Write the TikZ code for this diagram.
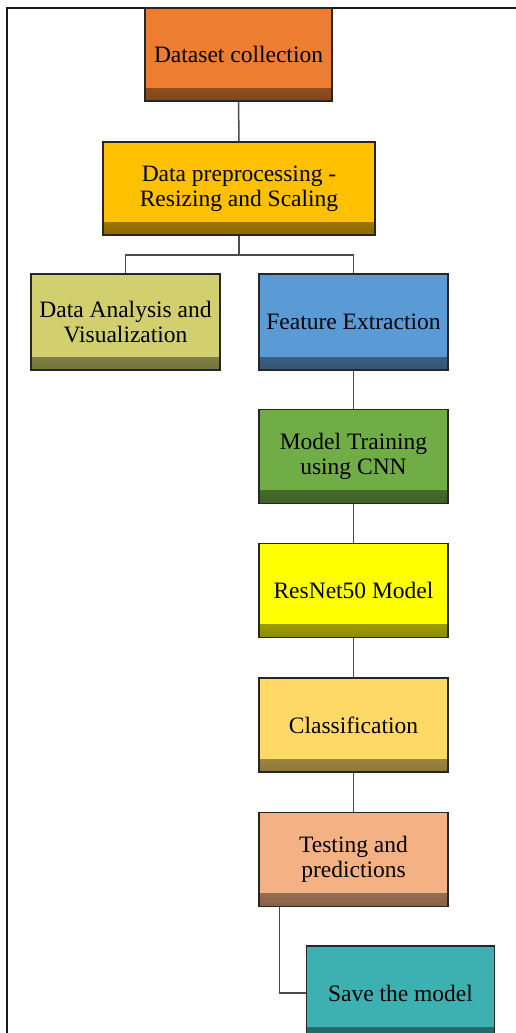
\documentclass[tikz,border=0pt]{standalone}
\usepackage{fontspec}
\setmainfont{Liberation Serif}
\definecolor{cOrange}{HTML}{ED7D31}
\definecolor{cGold}{HTML}{FFC000}
\definecolor{cOlive}{HTML}{D1CF6E}
\definecolor{cBlue}{HTML}{5B9BD5}
\definecolor{cGreen}{HTML}{70AD47}
\definecolor{cYellow}{HTML}{FFFF00}
\definecolor{cSand}{HTML}{FFD966}
\definecolor{cPeach}{HTML}{F4B183}
\definecolor{cTeal}{HTML}{3DB0B1}

\begin{document}
\begin{tikzpicture}[x=1pt,y=1pt,
    box/.style={draw=black!85, line width=1.2pt, fill=#1, inner sep=0pt,
        minimum width=189pt, minimum height=94pt, align=center,
        font=\fontsize{23.5}{25}\selectfont,
        path picture={\shade[top color=#1, bottom color=#1!55!black]
            ([yshift=13pt]path picture bounding box.south west)
            rectangle (path picture bounding box.south east);}},
    link/.style={draw=black!70, line width=1.5pt}]
    \useasboundingbox (0,0) rectangle (515,-1033);
    % outer frame
    \draw [line width=2.2pt, black!90] (7,-1050) -- (7,-8) -- (530,-8);
    \node [box=cOrange, minimum width=187pt, minimum height=93pt] (dataset) at (238.5,-54.5) {Dataset collection};
    \node [box=cGold, minimum width=272pt, minimum height=93pt] (prep) at (239,-188.5) {Data preprocessing -\\Resizing and Scaling};
    \node [box=cOlive, minimum height=96pt] (analysis) at (125.5,-322) {Data Analysis and\\Visualization};
    \node [box=cBlue, minimum height=96pt] (feature) at (353.5,-322) {Feature Extraction};
    \node [box=cGreen] (training) at (353.5,-456.5) {Model Training\\using CNN};
    \node [box=cYellow] (resnet) at (353.5,-590.5) {ResNet50 Model};
    \node [box=cSand] (classif) at (353.5,-725) {Classification};
    \node [box=cPeach] (testing) at (353.5,-859.5) {Testing and\\predictions};
    \node [box=cTeal, minimum width=188pt] (save) at (400.5,-993) {Save the model};
    \coordinate (split) at (239,-255);
    % connectors
    \draw [link] (dataset) -- (prep);
    \draw [link] (prep.south) -- (split) -| (analysis.north);
    \draw [link] (split) -| (feature.north);
    \draw [link] (feature) -- (training);
    \draw [link] (training) -- (resnet);
    \draw [link] (resnet) -- (classif);
    \draw [link] (classif) -- (testing);
    \draw [link] ([xshift=21pt]testing.south west) |- (save.west);
\end{tikzpicture}
\end{document}
